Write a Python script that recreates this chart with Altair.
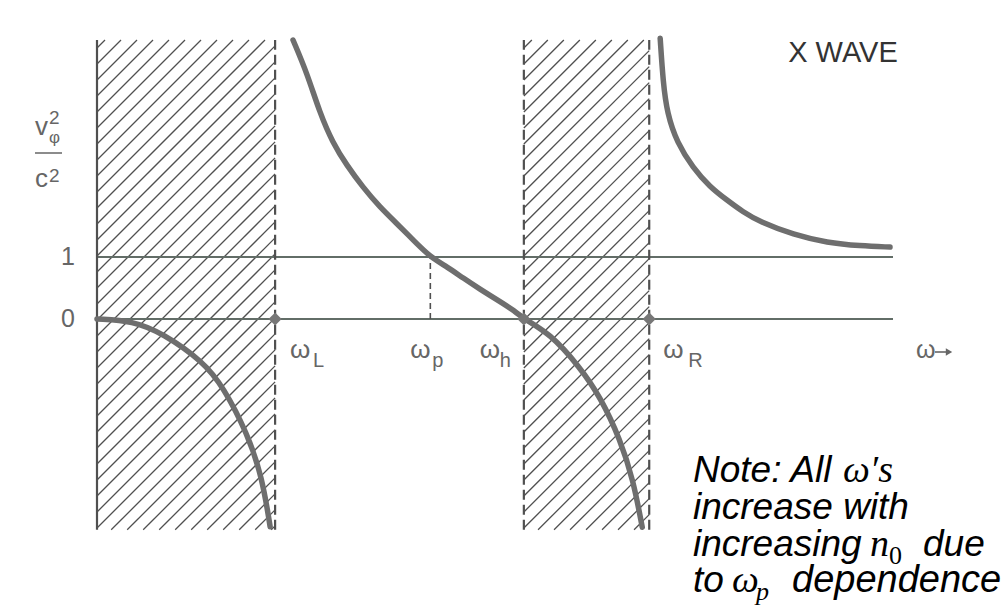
import altair as alt
import pandas as pd

# ---- X-wave dispersion sketch: v_phi^2/c^2 against omega (arbitrary omega units) ----
OMEGA_L, OMEGA_P, OMEGA_H, OMEGA_R = 1.79, 3.35, 4.29, 5.55
OMEGA_END = 8.0
Y_TOP, Y_BOTTOM = 4.5, -3.4

# branch below omega_L (inside the left stop band)
low_w = [0.0, 0.36, 0.66, 1.07, 1.27, 1.51, 1.66, 1.74]
low_v = [0.0, -0.03, -0.23, -0.69, -1.10, -1.84, -2.55, -3.35]

# branch between omega_L and omega_R
mid_w = [1.97, 2.11, 2.24, 2.37, 2.51, 2.67, 2.84, 3.02, 3.18, 3.35, 3.52,
         3.68, 3.85, 4.02, 4.18, 4.29, 4.55, 4.85, 5.06, 5.26, 5.39, 5.48]
mid_v = [4.5, 3.97, 3.32, 2.84, 2.48, 2.13, 1.81, 1.53, 1.27, 1.0, 0.84,
         0.66, 0.48, 0.31, 0.15, 0.0, -0.23, -0.77, -1.26, -1.95, -2.60, -3.36]

# branch above omega_R
high_w = [5.66, 5.69, 5.73, 5.83, 5.99, 6.16, 6.33, 6.49, 6.66, 7.00, 7.34, 7.67, 7.97]
high_v = [4.53, 3.81, 3.32, 2.84, 2.44, 2.13, 1.92, 1.73, 1.57, 1.36, 1.23, 1.18, 1.16]

tick_values = [0, 1]
tick_text = ["0", "1"]

cutoff_names = ["L", "p", "h", "R"]
cutoff_w = [OMEGA_L, OMEGA_P, OMEGA_H, OMEGA_R]

# ---- canvas geometry ----
W, H = 1007, 610
ORIGIN_X, ORIGIN_Y = 97, 319
PX_PER_W, PX_PER_V = 99.5, 62.0

x_scale = alt.Scale(domain=[-ORIGIN_X / PX_PER_W, (W - ORIGIN_X) / PX_PER_W], nice=False, zero=False)
y_scale = alt.Scale(domain=[(ORIGIN_Y - H) / PX_PER_V, ORIGIN_Y / PX_PER_V], nice=False, zero=False)


def X(f):
    return alt.X(f"{f}:Q", scale=x_scale, axis=None)


def Y(f):
    return alt.Y(f"{f}:Q", scale=y_scale, axis=None)


INK = "#505050"
LABEL = "#666666"
LEVEL = "#626d67"
CURVE = "#6e6e6e"


def hatch_segments(w0, w1, v0, v1, step=16.0):
    """45-degree hatch strokes clipped to the band [w0, w1] x [v0, v1]."""
    left = ORIGIN_X + PX_PER_W * w0
    right = ORIGIN_X + PX_PER_W * w1
    top = ORIGIN_Y - PX_PER_V * v1
    bottom = ORIGIN_Y - PX_PER_V * v0
    rows = []
    c = left + top + step / 2
    while c < right + bottom:
        a = max(left, c - bottom)
        b = min(right, c - top)
        if b > a:
            rows.append({
                "x": (a - ORIGIN_X) / PX_PER_W, "y": (ORIGIN_Y - (c - a)) / PX_PER_V,
                "x2": (b - ORIGIN_X) / PX_PER_W, "y2": (ORIGIN_Y - (c - b)) / PX_PER_V,
            })
        c += step
    return rows


hatch_df = pd.DataFrame(
    hatch_segments(0.0, OMEGA_L, Y_BOTTOM, Y_TOP) + hatch_segments(OMEGA_H, OMEGA_R, Y_BOTTOM, Y_TOP)
)

hatch = alt.Chart(hatch_df).mark_rule(color=INK, strokeWidth=1.3).encode(
    x=X("x"), y=Y("y"), x2="x2:Q", y2="y2:Q"
)

levels = alt.Chart(pd.DataFrame({"v": tick_values, "w0": 0.0, "w1": OMEGA_END})).mark_rule(
    color=LEVEL, strokeWidth=2
).encode(x=X("w0"), x2="w1:Q", y=Y("v"))

left_edge = alt.Chart(pd.DataFrame({"w": [0.0], "v0": [Y_BOTTOM], "v1": [Y_TOP]})).mark_rule(
    color=INK, strokeWidth=2.2
).encode(x=X("w"), y=Y("v0"), y2="v1:Q")

band_edges = alt.Chart(
    pd.DataFrame({"w": [OMEGA_L, OMEGA_H, OMEGA_R], "v0": Y_BOTTOM, "v1": Y_TOP})
).mark_rule(color=INK, strokeWidth=2.2, strokeDash=[10, 5]).encode(x=X("w"), y=Y("v0"), y2="v1:Q")

wp_drop = alt.Chart(pd.DataFrame({"w": [OMEGA_P], "v0": [0.0], "v1": [1.0]})).mark_rule(
    color=INK, strokeWidth=1.6, strokeDash=[6, 4]
).encode(x=X("w"), y=Y("v0"), y2="v1:Q")

curve_df = pd.concat([
    pd.DataFrame({"w": low_w, "v": low_v, "branch": "low"}),
    pd.DataFrame({"w": mid_w, "v": mid_v, "branch": "mid"}),
    pd.DataFrame({"w": high_w, "v": high_v, "branch": "high"}),
])
curves = alt.Chart(curve_df).mark_line(
    interpolate="basis", color=CURVE, strokeWidth=5.5, strokeCap="round"
).encode(x=X("w"), y=Y("v"), detail="branch:N")

markers = alt.Chart(pd.DataFrame({"w": [OMEGA_L, OMEGA_H, OMEGA_R], "v": 0.0})).mark_point(
    shape="diamond", filled=True, size=170, color="#777777", opacity=1
).encode(x=X("w"), y=Y("v"))

# ---- labels ----
ticks = alt.Chart(pd.DataFrame({"v": tick_values, "t": tick_text})).mark_text(
    font="Liberation Sans", fontSize=25, color=LABEL, align="center", baseline="middle"
).encode(x=alt.value(68), y=Y("v"), text="t:N")

omega_offset = {"L": 15, "p": -20, "h": -44, "R": 14}
sub_offset = {"L": 23, "p": 22, "h": 20, "R": 25}
lab_df = pd.DataFrame({
    "name": cutoff_names,
    "w_omega": [w + omega_offset[n] / PX_PER_W for n, w in zip(cutoff_names, cutoff_w)],
    "w_sub": [w + (omega_offset[n] + sub_offset[n]) / PX_PER_W for n, w in zip(cutoff_names, cutoff_w)],
    "omega": "ω",
})
omega_text = alt.Chart(lab_df).mark_text(
    font="Liberation Sans", fontSize=26, color=LABEL, align="left", baseline="alphabetic"
).encode(x=X("w_omega"), y=alt.value(358), text="omega:N")
sub_text = alt.Chart(lab_df).mark_text(
    font="Liberation Sans", fontSize=20, color=LABEL, align="left", baseline="alphabetic"
).encode(x=X("w_sub"), y=alt.value(367), text="name:N")


def note(text, x, y, size, font="Liberation Sans", style="normal", color=LABEL, align="left"):
    return alt.Chart(pd.DataFrame({"t": [text]})).mark_text(
        font=font, fontSize=size, fontStyle=style, color=color, align=align, baseline="alphabetic"
    ).encode(x=alt.value(x), y=alt.value(y), text="t:N")


# vertical-axis quantity v_phi^2 / c^2
y_title = [
    note("v", 35, 135, 26),
    note("2", 49, 124, 19),
    note("φ", 49, 143, 17),
    note("c", 35, 187, 26),
    note("2", 49, 182, 19),
]
title_bar = alt.Chart(pd.DataFrame({"a": [0]})).mark_rule(color=LABEL, strokeWidth=1.5).encode(
    x=alt.value(35), x2=alt.value(62), y=alt.value(153)
)

omega_axis = note("ω", 916, 358, 25)
arrow_shaft = alt.Chart(pd.DataFrame({"a": [0]})).mark_rule(color=LABEL, strokeWidth=1.6).encode(
    x=alt.value(935), x2=alt.value(948), y=alt.value(352)
)
arrow_head = alt.Chart(pd.DataFrame({"a": [0]})).mark_point(
    shape="triangle-right", filled=True, size=55, color=LABEL, opacity=1
).encode(x=alt.value(949), y=alt.value(352))

x_wave = note("X WAVE", 843, 62, 29, color="#333333", align="center")

SANS_I = dict(font="Liberation Sans", style="italic", color="#000000")
SERIF_I = dict(font="Liberation Serif", style="italic", color="#000000")
note_parts = [
    note("Note: All", 693, 482, 37, **SANS_I),
    note("ω′s", 843, 482, 38, **SERIF_I),
    note("increase with", 693, 519, 37, **SANS_I),
    note("increasing", 693, 556, 37, **SANS_I),
    note("n", 870, 556, 38, **SERIF_I),
    note("0", 889, 564, 26, font="Liberation Serif", color="#000000"),
    note("due", 923, 556, 37, **SANS_I),
    note("to", 693, 592, 37, **SANS_I),
    note("ω", 732, 592, 38, **SERIF_I),
    note("p", 756, 600, 26, **SERIF_I),
    note("dependence", 792, 592, 38, **SANS_I),
]

chart = alt.layer(
    hatch, levels, left_edge, band_edges, wp_drop, curves, markers,
    ticks, omega_text, sub_text, title_bar, *y_title,
    omega_axis, arrow_shaft, arrow_head, x_wave, *note_parts,
).properties(
    width=W, height=H, autosize=alt.AutoSizeParams(type="none"), padding=0, background="#ffffff"
).configure_view(stroke=None)

chart.save("out.html", embed_options={"renderer": "svg", "actions": False})
